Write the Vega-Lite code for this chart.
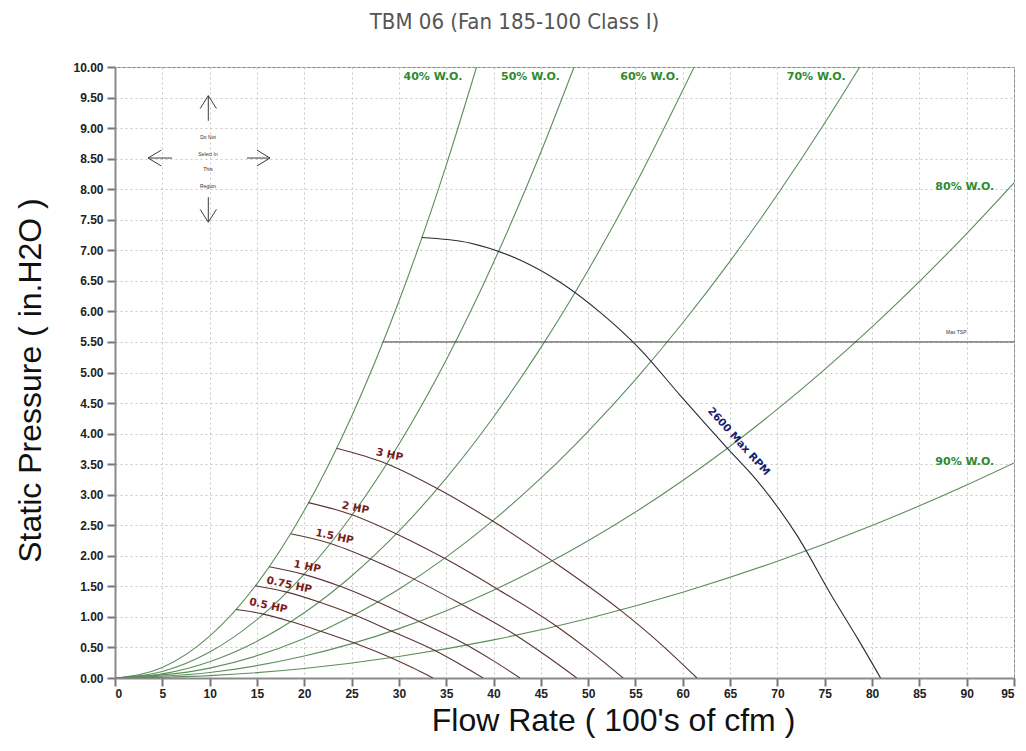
{
  "$schema": "https://vega.github.io/schema/vega-lite/v6.json",
  "autosize": {"type": "none"},
  "padding": {"left": 115, "top": 67, "right": 12, "bottom": 73},
  "width": 899,
  "height": 611,
  "background": "white",
  "title": {
    "text": "TBM 06 (Fan 185-100 Class I)",
    "font": "Liberation Sans Narrow, DejaVu Sans Condensed, Roboto, sans-serif",
    "fontSize": 22,
    "fontWeight": "normal",
    "color": "#555555",
    "anchor": "middle",
    "dx": -50,
    "offset": 27
  },
  "datasets": {
    "curves": [
      {"c": "w40", "t": "wo", "q": 0, "p": 0},
      {"c": "w40", "t": "wo", "q": 5, "p": 0.171},
      {"c": "w40", "t": "wo", "q": 10, "p": 0.685},
      {"c": "w40", "t": "wo", "q": 15, "p": 1.541},
      {"c": "w40", "t": "wo", "q": 20, "p": 2.74},
      {"c": "w40", "t": "wo", "q": 25, "p": 4.281},
      {"c": "w40", "t": "wo", "q": 30, "p": 6.165},
      {"c": "w40", "t": "wo", "q": 35, "p": 8.391},
      {"c": "w40", "t": "wo", "q": 38.2, "p": 9.996},
      {"c": "w50", "t": "wo", "q": 0, "p": 0},
      {"c": "w50", "t": "wo", "q": 5, "p": 0.106},
      {"c": "w50", "t": "wo", "q": 10, "p": 0.425},
      {"c": "w50", "t": "wo", "q": 15, "p": 0.956},
      {"c": "w50", "t": "wo", "q": 20, "p": 1.7},
      {"c": "w50", "t": "wo", "q": 25, "p": 2.656},
      {"c": "w50", "t": "wo", "q": 30, "p": 3.825},
      {"c": "w50", "t": "wo", "q": 35, "p": 5.206},
      {"c": "w50", "t": "wo", "q": 40, "p": 6.8},
      {"c": "w50", "t": "wo", "q": 45, "p": 8.606},
      {"c": "w50", "t": "wo", "q": 48.5, "p": 9.997},
      {"c": "w60", "t": "wo", "q": 0, "p": 0},
      {"c": "w60", "t": "wo", "q": 5, "p": 0.067},
      {"c": "w60", "t": "wo", "q": 10, "p": 0.267},
      {"c": "w60", "t": "wo", "q": 15, "p": 0.601},
      {"c": "w60", "t": "wo", "q": 20, "p": 1.068},
      {"c": "w60", "t": "wo", "q": 25, "p": 1.669},
      {"c": "w60", "t": "wo", "q": 30, "p": 2.403},
      {"c": "w60", "t": "wo", "q": 35, "p": 3.271},
      {"c": "w60", "t": "wo", "q": 40, "p": 4.272},
      {"c": "w60", "t": "wo", "q": 45, "p": 5.407},
      {"c": "w60", "t": "wo", "q": 50, "p": 6.675},
      {"c": "w60", "t": "wo", "q": 55, "p": 8.077},
      {"c": "w60", "t": "wo", "q": 61.2, "p": 10.0},
      {"c": "w70", "t": "wo", "q": 0, "p": 0},
      {"c": "w70", "t": "wo", "q": 10, "p": 0.162},
      {"c": "w70", "t": "wo", "q": 20, "p": 0.646},
      {"c": "w70", "t": "wo", "q": 30, "p": 1.454},
      {"c": "w70", "t": "wo", "q": 35, "p": 1.978},
      {"c": "w70", "t": "wo", "q": 40, "p": 2.584},
      {"c": "w70", "t": "wo", "q": 45, "p": 3.27},
      {"c": "w70", "t": "wo", "q": 50, "p": 4.038},
      {"c": "w70", "t": "wo", "q": 55, "p": 4.885},
      {"c": "w70", "t": "wo", "q": 60, "p": 5.814},
      {"c": "w70", "t": "wo", "q": 65, "p": 6.823},
      {"c": "w70", "t": "wo", "q": 70, "p": 7.914},
      {"c": "w70", "t": "wo", "q": 75, "p": 9.084},
      {"c": "w70", "t": "wo", "q": 78.7, "p": 10.0},
      {"c": "w80", "t": "wo", "q": 0, "p": 0},
      {"c": "w80", "t": "wo", "q": 10, "p": 0.09},
      {"c": "w80", "t": "wo", "q": 20, "p": 0.359},
      {"c": "w80", "t": "wo", "q": 30, "p": 0.808},
      {"c": "w80", "t": "wo", "q": 40, "p": 1.437},
      {"c": "w80", "t": "wo", "q": 50, "p": 2.245},
      {"c": "w80", "t": "wo", "q": 60, "p": 3.233},
      {"c": "w80", "t": "wo", "q": 70, "p": 4.4},
      {"c": "w80", "t": "wo", "q": 80, "p": 5.747},
      {"c": "w80", "t": "wo", "q": 90, "p": 7.274},
      {"c": "w80", "t": "wo", "q": 95, "p": 8.104},
      {"c": "w90", "t": "wo", "q": 0, "p": 0},
      {"c": "w90", "t": "wo", "q": 10, "p": 0.039},
      {"c": "w90", "t": "wo", "q": 20, "p": 0.156},
      {"c": "w90", "t": "wo", "q": 30, "p": 0.351},
      {"c": "w90", "t": "wo", "q": 40, "p": 0.624},
      {"c": "w90", "t": "wo", "q": 50, "p": 0.975},
      {"c": "w90", "t": "wo", "q": 60, "p": 1.404},
      {"c": "w90", "t": "wo", "q": 70, "p": 1.911},
      {"c": "w90", "t": "wo", "q": 80, "p": 2.496},
      {"c": "w90", "t": "wo", "q": 90, "p": 3.159},
      {"c": "w90", "t": "wo", "q": 95, "p": 3.52},
      {"c": "h3", "t": "hp", "q": 23.4, "p": 3.76},
      {"c": "h3", "t": "hp", "q": 28.5, "p": 3.52},
      {"c": "h3", "t": "hp", "q": 34.2, "p": 3.09},
      {"c": "h3", "t": "hp", "q": 40.0, "p": 2.56},
      {"c": "h3", "t": "hp", "q": 46.1, "p": 1.93},
      {"c": "h3", "t": "hp", "q": 53.4, "p": 1.11},
      {"c": "h3", "t": "hp", "q": 57.5, "p": 0.58},
      {"c": "h3", "t": "hp", "q": 61.5, "p": 0},
      {"c": "h2", "t": "hp", "q": 20.43, "p": 2.87},
      {"c": "h2", "t": "hp", "q": 24.88, "p": 2.68},
      {"c": "h2", "t": "hp", "q": 29.86, "p": 2.35},
      {"c": "h2", "t": "hp", "q": 34.92, "p": 1.95},
      {"c": "h2", "t": "hp", "q": 40.25, "p": 1.47},
      {"c": "h2", "t": "hp", "q": 46.62, "p": 0.85},
      {"c": "h2", "t": "hp", "q": 50.2, "p": 0.44},
      {"c": "h2", "t": "hp", "q": 53.7, "p": 0},
      {"c": "h15", "t": "hp", "q": 18.56, "p": 2.36},
      {"c": "h15", "t": "hp", "q": 22.6, "p": 2.21},
      {"c": "h15", "t": "hp", "q": 27.12, "p": 1.94},
      {"c": "h15", "t": "hp", "q": 31.72, "p": 1.61},
      {"c": "h15", "t": "hp", "q": 36.56, "p": 1.21},
      {"c": "h15", "t": "hp", "q": 42.35, "p": 0.7},
      {"c": "h15", "t": "hp", "q": 45.6, "p": 0.36},
      {"c": "h15", "t": "hp", "q": 48.8, "p": 0},
      {"c": "h1", "t": "hp", "q": 16.29, "p": 1.82},
      {"c": "h1", "t": "hp", "q": 19.84, "p": 1.7},
      {"c": "h1", "t": "hp", "q": 23.8, "p": 1.5},
      {"c": "h1", "t": "hp", "q": 27.84, "p": 1.24},
      {"c": "h1", "t": "hp", "q": 32.09, "p": 0.93},
      {"c": "h1", "t": "hp", "q": 37.17, "p": 0.54},
      {"c": "h1", "t": "hp", "q": 40.0, "p": 0.28},
      {"c": "h1", "t": "hp", "q": 42.8, "p": 0},
      {"c": "h075", "t": "hp", "q": 14.81, "p": 1.51},
      {"c": "h075", "t": "hp", "q": 18.04, "p": 1.41},
      {"c": "h075", "t": "hp", "q": 21.65, "p": 1.24},
      {"c": "h075", "t": "hp", "q": 25.32, "p": 1.03},
      {"c": "h075", "t": "hp", "q": 29.18, "p": 0.77},
      {"c": "h075", "t": "hp", "q": 33.8, "p": 0.45},
      {"c": "h075", "t": "hp", "q": 36.4, "p": 0.23},
      {"c": "h075", "t": "hp", "q": 38.9, "p": 0},
      {"c": "h05", "t": "hp", "q": 12.78, "p": 1.12},
      {"c": "h05", "t": "hp", "q": 15.56, "p": 1.05},
      {"c": "h05", "t": "hp", "q": 18.67, "p": 0.92},
      {"c": "h05", "t": "hp", "q": 21.84, "p": 0.76},
      {"c": "h05", "t": "hp", "q": 25.17, "p": 0.58},
      {"c": "h05", "t": "hp", "q": 29.16, "p": 0.33},
      {"c": "h05", "t": "hp", "q": 31.4, "p": 0.17},
      {"c": "h05", "t": "hp", "q": 33.6, "p": 0},
      {"c": "rpm", "t": "rpm", "q": 32.4, "p": 7.21},
      {"c": "rpm", "t": "rpm", "q": 37.5, "p": 7.12},
      {"c": "rpm", "t": "rpm", "q": 42.8, "p": 6.84},
      {"c": "rpm", "t": "rpm", "q": 47.0, "p": 6.48},
      {"c": "rpm", "t": "rpm", "q": 51.3, "p": 5.98},
      {"c": "rpm", "t": "rpm", "q": 55.5, "p": 5.38},
      {"c": "rpm", "t": "rpm", "q": 59.7, "p": 4.63},
      {"c": "rpm", "t": "rpm", "q": 64.6, "p": 3.78},
      {"c": "rpm", "t": "rpm", "q": 67.8, "p": 3.24},
      {"c": "rpm", "t": "rpm", "q": 72.0, "p": 2.35},
      {"c": "rpm", "t": "rpm", "q": 75.9, "p": 1.3},
      {"c": "rpm", "t": "rpm", "q": 78.5, "p": 0.64},
      {"c": "rpm", "t": "rpm", "q": 80.9, "p": 0}
    ],
    "segs": [
      {"q": 28.3, "p": 5.5, "q2": 95, "p2": 5.5},
      {"q": 9.86, "p": 9.12, "q2": 9.86, "p2": 9.53},
      {"q": 9.0, "p": 9.32, "q2": 9.86, "p2": 9.53},
      {"q": 10.72, "p": 9.32, "q2": 9.86, "p2": 9.53},
      {"q": 9.86, "p": 7.87, "q2": 9.86, "p2": 7.46},
      {"q": 9.0, "p": 7.67, "q2": 9.86, "p2": 7.46},
      {"q": 10.72, "p": 7.67, "q2": 9.86, "p2": 7.46},
      {"q": 6.02, "p": 8.51, "q2": 3.49, "p2": 8.51},
      {"q": 4.9, "p": 8.64, "q2": 3.49, "p2": 8.51},
      {"q": 4.9, "p": 8.38, "q2": 3.49, "p2": 8.51},
      {"q": 13.95, "p": 8.51, "q2": 16.38, "p2": 8.51},
      {"q": 15.0, "p": 8.64, "q2": 16.38, "p2": 8.51},
      {"q": 15.0, "p": 8.38, "q2": 16.38, "p2": 8.51}
    ],
    "wolabels": [
      {"label": "40% W.O.", "q": 33.6, "p": 9.84},
      {"label": "50% W.O.", "q": 43.9, "p": 9.84},
      {"label": "60% W.O.", "q": 56.5, "p": 9.84},
      {"label": "70% W.O.", "q": 74.1, "p": 9.84},
      {"label": "80% W.O.", "q": 89.8, "p": 8.04},
      {"label": "90% W.O.", "q": 89.8, "p": 3.54}
    ],
    "hplabels": [
      {"label": "3 HP", "q": 29.0, "p": 3.65},
      {"label": "2 HP", "q": 25.4, "p": 2.78},
      {"label": "1.5 HP", "q": 23.2, "p": 2.31},
      {"label": "1 HP", "q": 20.3, "p": 1.82},
      {"label": "0.75 HP", "q": 18.4, "p": 1.52},
      {"label": "0.5 HP", "q": 16.2, "p": 1.18}
    ],
    "rpmlabel": [
      {"label": "2600 Max RPM", "q": 65.9, "p": 3.87}
    ],
    "tiny": [
      {"label": "Max TSP", "q": 88.9, "p": 5.67},
      {"label": "Do Not", "q": 9.83, "p": 8.85},
      {"label": "Select In", "q": 9.83, "p": 8.57},
      {"label": "This", "q": 9.83, "p": 8.33},
      {"label": "Region", "q": 9.83, "p": 8.05}
    ]
  },
  "config": {
    "view": {"stroke": "#8a8a8a", "strokeWidth": 1},
    "axis": {
      "labelFont": "Liberation Sans",
      "labelFontWeight": "bold",
      "labelFontSize": 12,
      "labelColor": "#222222",
      "labelOverlap": false,
      "tickColor": "#777777",
      "tickSize": 8,
      "tickWidth": 2,
      "domainColor": "#8a8a8a",
      "domainWidth": 2,
      "gridColor": "#c8c8c8",
      "gridDash": [2, 3],
      "gridWidth": 1,
      "titleFont": "Liberation Sans",
      "titleFontWeight": "normal",
      "titleFontSize": 32,
      "titleColor": "#111111"
    }
  },
  "encoding": {
    "x": {
      "field": "q", "type": "quantitative",
      "scale": {"domain": [0, 95], "nice": false, "zero": false},
      "axis": {
        "values": [0, 5, 10, 15, 20, 25, 30, 35, 40, 45, 50, 55, 60, 65, 70, 75, 80, 85, 90, 95],
        "title": "Flow Rate ( 100's of cfm )",
        "labelPadding": 2,
        "labelOverlap": false,
        "titleX": 498,
        "titleY": 42,
        "titleBaseline": "middle"
      }
    },
    "y": {
      "field": "p", "type": "quantitative",
      "scale": {"domain": [0, 10], "nice": false},
      "axis": {
        "values": [0, 0.5, 1, 1.5, 2, 2.5, 3, 3.5, 4, 4.5, 5, 5.5, 6, 6.5, 7, 7.5, 8, 8.5, 9, 9.5, 10],
        "format": ".2f",
        "title": "Static Pressure ( in.H2O )",
        "labelPadding": 4,
        "labelOverlap": false,
        "titleX": -85,
        "titleY": 313,
        "titleBaseline": "middle"
      }
    }
  },
  "layer": [
    {
      "data": {"name": "curves"},
      "mark": {"type": "line", "strokeWidth": 1.1, "interpolate": "monotone", "clip": true},
      "encoding": {
        "detail": {"field": "c"},
        "color": {
          "field": "t", "type": "nominal",
          "scale": {"domain": ["wo", "hp", "rpm"], "range": ["#5d8d5d", "#5a3434", "#2a2a3a"]},
          "legend": null
        }
      }
    },
    {
      "data": {"name": "segs"},
      "mark": {"type": "rule", "color": "#3a3a3a", "strokeWidth": 1},
      "encoding": {
        "x2": {"field": "q2"},
        "y2": {"field": "p2"}
      }
    },
    {
      "data": {"name": "wolabels"},
      "mark": {"type": "text", "font": "DejaVu Sans", "fontWeight": "bold", "fontSize": 11, "color": "#2f8a2f", "align": "center", "baseline": "middle"},
      "encoding": {
        "text": {"field": "label"}
      }
    },
    {
      "data": {"name": "hplabels"},
      "mark": {"type": "text", "font": "DejaVu Sans", "fontWeight": "bold", "fontSize": 10.5, "color": "#7a1c1c", "align": "center", "baseline": "middle", "angle": 12},
      "encoding": {
        "text": {"field": "label"}
      }
    },
    {
      "data": {"name": "rpmlabel"},
      "mark": {"type": "text", "font": "DejaVu Sans", "fontWeight": "bold", "fontSize": 10.5, "color": "#1c1c6a", "align": "center", "baseline": "middle", "angle": 48},
      "encoding": {
        "text": {"field": "label"}
      }
    },
    {
      "data": {"name": "tiny"},
      "mark": {"type": "text", "font": "Liberation Sans", "fontSize": 5, "color": "#333333", "align": "center", "baseline": "middle"},
      "encoding": {
        "text": {"field": "label"}
      }
    }
  ]
}
